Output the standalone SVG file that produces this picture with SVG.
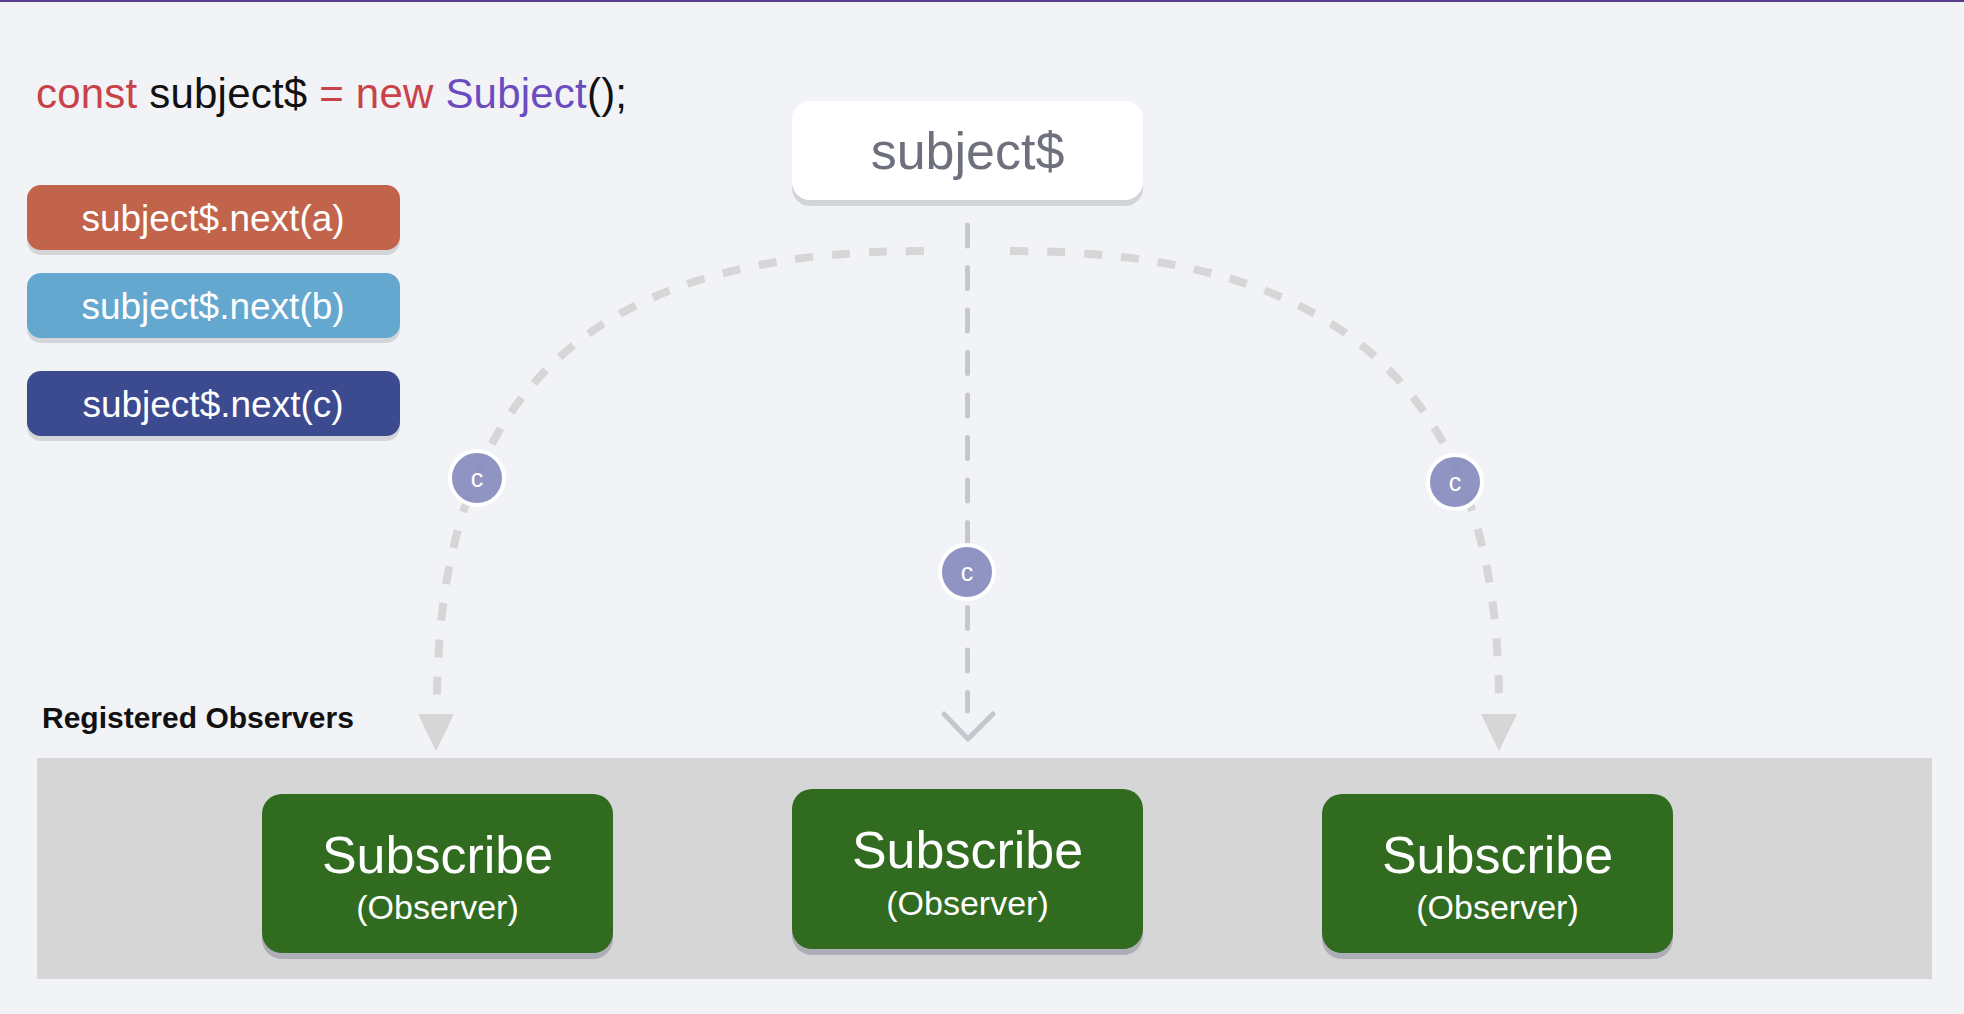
<svg xmlns="http://www.w3.org/2000/svg" width="1964" height="1014" viewBox="0 0 1964 1014">
<defs>
<style>
.bg{fill:#f2f3f7}
.t{font-family:"Liberation Sans",Arial,sans-serif}
.btn-text{font-family:"Liberation Sans",Arial,sans-serif;font-size:37px;fill:#ffffff;text-anchor:middle}
.shadow{fill:#000000;fill-opacity:0.12}
.obs{fill:#316b1f}
.obs-shadow{fill:#aeaeb8}
.sub1{font-family:"Liberation Sans",Arial,sans-serif;font-size:52px;fill:#ffffff;text-anchor:middle}
.sub2{font-family:"Liberation Sans",Arial,sans-serif;font-size:34px;fill:#ffffff;text-anchor:middle}
.arc{fill:none;stroke:#d6d6d6;stroke-width:8;stroke-dasharray:18 19}
.mid{fill:none;stroke:#c5c6ce;stroke-width:5;stroke-linecap:round;stroke-linejoin:round}
.tok{fill:#8a8ec0;fill-opacity:0.95;stroke:#ffffff;stroke-width:4}
.tok-text{font-family:"Liberation Sans",Arial,sans-serif;font-size:25px;fill:#ffffff;text-anchor:middle}
</style>
</defs>
<rect class="bg" x="0" y="0" width="1964" height="1014"/>
<rect x="0" y="0" width="1964" height="2" fill="#5a3d8a"/>

<g id="code">
<text class="t" x="36" y="108" font-size="42" textLength="591"><tspan fill="#c9424a">const</tspan><tspan fill="#111111"> subject$ </tspan><tspan fill="#c9424a">= new </tspan><tspan fill="#6a4cbf">Subject</tspan><tspan fill="#111111">();</tspan></text>
</g>

<g id="next-a">
<rect class="shadow" x="27" y="190" width="373" height="65" rx="14"/>
<rect x="27" y="185" width="373" height="65" rx="14" fill="#c2634b"/>
<text class="btn-text" x="213" y="231">subject$.next(a)</text>
</g>
<g id="next-b">
<rect class="shadow" x="27" y="278" width="373" height="65" rx="14"/>
<rect x="27" y="273" width="373" height="65" rx="14" fill="#64a7cf"/>
<text class="btn-text" x="213" y="319">subject$.next(b)</text>
</g>
<g id="next-c">
<rect class="shadow" x="27" y="376" width="373" height="65" rx="14"/>
<rect x="27" y="371" width="373" height="65" rx="14" fill="#3c4a8f"/>
<text class="btn-text" x="213" y="417">subject$.next(c)</text>
</g>

<g id="subject">
<rect x="792" y="106" width="351" height="100" rx="18" fill="#d3d4da"/>
<rect x="792" y="101" width="351" height="99" rx="18" fill="#ffffff"/>
<text class="t" x="967.5" y="169" font-size="52" fill="#6e717d" text-anchor="middle">subject$</text>
</g>

<g id="registered-label">
<text class="t" x="42" y="728" font-size="30" font-weight="bold" fill="#111111">Registered Observers</text>
</g>

<g id="observers-band">
<rect x="37" y="758" width="1895" height="221" fill="#d6d6d6"/>
</g>

<g id="connectors">
<path class="arc" d="M 924 251 C 640 251 440 350 437 697"/>
<polygon points="418,714 454,714 436,751" fill="#d6d6d6"/>
<path class="arc" d="M 1010 251 C 1294 251 1496 350 1499 697"/>
<polygon points="1481,714 1517,714 1499,751" fill="#d6d6d6"/>
<path class="mid" d="M 967.5 225 L 967.5 711" stroke-dasharray="21 21.5"/>
<path class="mid" d="M 944 714 L 968 739 L 993 714"/>
</g>

<g id="token-left">
<circle class="tok" cx="477" cy="478" r="27"/>
<text class="tok-text" x="477" y="487">c</text>
</g>
<g id="token-center">
<circle class="tok" cx="967" cy="572" r="27"/>
<text class="tok-text" x="967" y="581">c</text>
</g>
<g id="token-right">
<circle class="tok" cx="1455" cy="482" r="27"/>
<text class="tok-text" x="1455" y="491">c</text>
</g>

<g id="observer-1">
<rect class="obs-shadow" x="262" y="800" width="351" height="159" rx="20"/>
<rect class="obs" x="262" y="794" width="351" height="159" rx="20"/>
<text class="sub1" x="437.5" y="873">Subscribe</text>
<text class="sub2" x="437.5" y="919">(Observer)</text>
</g>
<g id="observer-2">
<rect class="obs-shadow" x="792" y="795" width="351" height="160" rx="20"/>
<rect class="obs" x="792" y="789" width="351" height="160" rx="20"/>
<text class="sub1" x="967.5" y="868">Subscribe</text>
<text class="sub2" x="967.5" y="915">(Observer)</text>
</g>
<g id="observer-3">
<rect class="obs-shadow" x="1322" y="800" width="351" height="159" rx="20"/>
<rect class="obs" x="1322" y="794" width="351" height="159" rx="20"/>
<text class="sub1" x="1497.5" y="873">Subscribe</text>
<text class="sub2" x="1497.5" y="919">(Observer)</text>
</g>
</svg>
